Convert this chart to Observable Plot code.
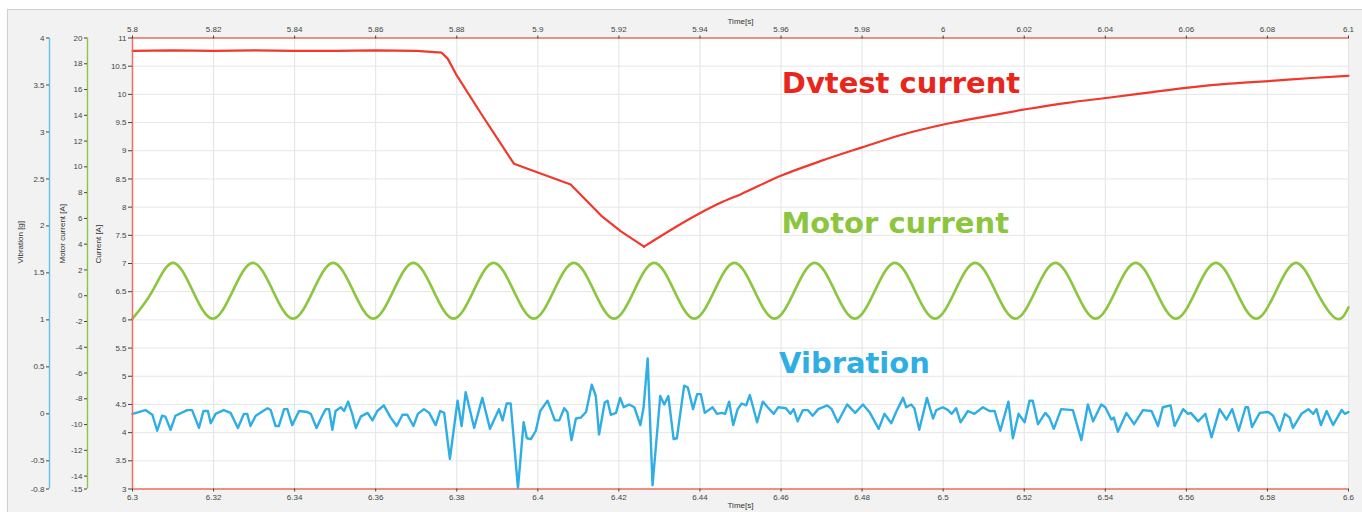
<!DOCTYPE html>
<html><head><meta charset="utf-8">
<script src="https://cdn.jsdelivr.net/npm/d3@7"></script>
<script src="https://cdn.jsdelivr.net/npm/@observablehq/plot@0.6"></script>
<style>
html,body{margin:0;padding:0;background:#fff;overflow:hidden;}
#wrap{position:relative;width:1362px;height:512px;overflow:hidden;}
#panel{position:absolute;left:7px;top:9px;width:1400px;height:560px;background:#f2f2f2;border-left:1px solid #cfcfcf;border-top:1px solid #cfcfcf;}
#chart{position:absolute;left:0;top:0;}
</style></head>
<body><div id="wrap"><div id="panel"></div><div id="chart"></div></div>
<script>
// ---- axis ticks ----
const xTicks = [6.3,6.32,6.34,6.36,6.38,6.4,6.42,6.44,6.46,6.48,6.5,6.52,6.54,6.56,6.58,6.6];
const topTicks = [5.8,5.82,5.84,5.86,5.88,5.9,5.92,5.94,5.96,5.98,6,6.02,6.04,6.06,6.08,6.1];
const currentTicks = [3,3.5,4,4.5,5,5.5,6,6.5,7,7.5,8,8.5,9,9.5,10,10.5,11];
const motorTicks = [20,18,16,14,12,10,8,6,4,2,0,-2,-4,-6,-8,-10,-12,-14,-15];
const vibTicks = [4,3.5,3,2.5,2,1.5,1,0.5,0,-0.5,-0.8];
const seriesNames = ["Dvtest current","Motor current","Vibration"];
const axisTitles = ["Current [A]","Motor current [A]","Vibration [g]"];
const timeTitle = "Time[s]";

// ---- Dvtest current (top time axis, A) ----
const redTime = [5.800,5.810,5.820,5.830,5.840,5.850,5.860,5.870,5.8763,5.8778,5.8798,5.8859,5.8941,5.9081,5.9156,5.9205,5.9262,5.9402,5.9452,5.9501,5.9601,5.9699,5.9800,5.9896,6.0004,6.0106,6.0207,6.0306,6.0407,6.0506,6.0605,6.0706,6.0810,6.0909,6.1000];
const redVal = [10.77,10.78,10.77,10.78,10.77,10.77,10.78,10.77,10.74,10.63,10.36,9.67,8.77,8.40,7.85,7.57,7.30,7.90,8.08,8.23,8.56,8.82,9.06,9.28,9.47,9.61,9.74,9.85,9.94,10.03,10.12,10.19,10.24,10.29,10.33];

// ---- Motor current (bottom time axis, A on motor axis) ----
const greenTime = [6.3,6.30495,6.3099,6.31485,6.3198,6.32475,6.3297,6.33465,6.3396,6.34455,6.3495,6.35445,6.3594,6.36435,6.3693,6.37425,6.3792,6.38415,6.3891,6.39405,6.399,6.40395,6.4089,6.41385,6.4188,6.42375,6.4287,6.43365,6.4386,6.44355,6.4485,6.45345,6.4584,6.46335,6.4683,6.47325,6.4782,6.48315,6.4881,6.49305,6.498,6.50295,6.5079,6.51285,6.5178,6.52275,6.5277,6.53265,6.5376,6.54255,6.5475,6.55245,6.5574,6.56235,6.5673,6.57225,6.5772,6.58215,6.5871,6.59205,6.597,6.6];
const greenVal = [-1.78,0.38,2.55,0.38,-1.78,0.38,2.55,0.38,-1.78,0.38,2.55,0.38,-1.78,0.38,2.55,0.38,-1.78,0.38,2.55,0.38,-1.78,0.38,2.55,0.38,-1.78,0.38,2.55,0.38,-1.78,0.38,2.55,0.38,-1.78,0.38,2.55,0.38,-1.78,0.38,2.55,0.38,-1.78,0.38,2.55,0.38,-1.78,0.38,2.55,0.38,-1.78,0.38,2.55,0.38,-1.78,0.38,2.55,0.38,-1.78,0.38,2.55,0.38,-1.78,-0.9];

// ---- Vibration (bottom time axis, g) ----
const vibTime = [
6.3000,6.3032,6.3049,6.3061,6.3073,6.3081,6.3094,6.3106,6.3135,6.3147,
6.3164,6.3175,6.3186,6.3193,6.3205,6.3225,6.3242,6.3260,6.3275,6.3283,
6.3291,6.3304,6.3333,6.3341,6.3353,6.3361,6.3374,6.3382,6.3394,6.3411,
6.3431,6.3440,6.3454,6.3468,6.3477,6.3485,6.3493,6.3501,6.3514,6.3522,
6.3532,6.3542,6.3551,6.3563,6.3580,6.3592,6.3604,6.3620,6.3637,6.3652,
6.3666,6.3678,6.3693,6.3704,6.3719,6.3732,6.3748,6.3759,6.3769,6.3783,
6.3802,6.3812,6.3822,6.3843,6.3863,6.3882,6.3904,6.3913,6.3923,6.3933,
6.3951,6.3965,6.3973,6.3983,6.3995,6.4006,6.4024,6.4042,6.4053,6.4065,
6.4073,6.4083,6.4094,6.4106,6.4119,6.4133,6.4143,6.4151,6.4165,6.4172,
6.4180,6.4193,6.4203,6.4212,6.4225,6.4238,6.4253,6.4261,6.4271,6.4283,
6.4302,6.4312,6.4322,6.4335,6.4343,6.4361,6.4370,6.4383,6.4393,6.4402,
6.4412,6.4431,6.4442,6.4454,6.4462,6.4472,6.4482,6.4493,6.4503,6.4514,
6.4523,6.4541,6.4555,6.4567,6.4582,6.4593,6.4612,6.4623,6.4631,6.4641,
6.4654,6.4666,6.4678,6.4692,6.4714,6.4725,6.4740,6.4763,6.4783,6.4802,
6.4818,6.4841,6.4855,6.4872,6.4884,6.4901,6.4909,6.4921,6.4929,6.4941,
6.4960,6.4975,6.4983,6.4999,6.5012,6.5021,6.5032,6.5043,6.5061,6.5077,
6.5098,6.5114,6.5127,6.5141,6.5161,6.5172,6.5186,6.5201,6.5213,6.5221,
6.5234,6.5252,6.5262,6.5273,6.5291,6.5320,6.5341,6.5357,6.5370,6.5390,
6.5400,6.5415,6.5421,6.5431,6.5452,6.5471,6.5493,6.5514,6.5530,6.5542,
6.5561,6.5571,6.5592,6.5604,6.5611,6.5629,6.5647,6.5662,6.5682,6.5699,
6.5713,6.5729,6.5746,6.5752,6.5762,6.5781,6.5802,6.5814,6.5830,6.5843,
6.5855,6.5863,6.5884,6.5901,6.5913,6.5921,6.5932,6.5946,6.5962,6.5970,
6.5983,6.5991,6.6000];
const vibVal = [
0.00,0.04,-0.01,-0.18,-0.02,-0.03,-0.17,-0.02,0.04,0.04,
-0.15,0.03,0.03,-0.10,0.00,0.04,0.01,-0.15,0.00,0.00,
-0.13,-0.02,0.06,0.04,-0.13,-0.13,0.05,0.05,-0.12,0.03,
0.02,0.00,-0.15,-0.02,0.05,0.05,-0.17,0.03,0.07,0.03,
0.13,0.00,-0.15,-0.03,0.01,-0.07,0.03,0.09,-0.04,-0.13,
-0.01,-0.01,-0.13,0.00,0.05,0.01,-0.12,0.03,0.01,-0.48,
0.14,-0.13,0.23,-0.15,0.17,-0.16,0.05,-0.07,0.11,0.11,
-0.79,-0.09,-0.26,-0.27,-0.18,0.03,0.14,-0.07,-0.07,0.06,
0.02,-0.28,-0.05,-0.04,0.02,0.31,0.19,-0.22,0.12,0.14,
-0.01,0.01,0.17,0.07,0.10,0.07,-0.12,0.07,0.59,-0.76,
0.19,0.10,0.19,-0.27,-0.26,0.30,0.28,0.05,0.21,0.21,
0.01,0.07,0.00,0.01,0.00,0.13,-0.12,0.05,0.11,0.09,
0.20,-0.09,0.13,0.07,0.00,0.07,0.06,0.00,0.05,-0.08,
0.04,0.04,-0.02,0.05,0.09,0.05,-0.09,0.10,0.01,0.10,
0.02,-0.16,0.00,-0.10,0.02,0.17,0.07,0.10,0.06,-0.17,
0.17,-0.05,0.04,0.07,0.04,0.00,0.06,-0.09,0.03,0.00,
0.07,0.03,0.03,-0.18,0.13,-0.26,0.00,-0.09,0.14,0.14,
-0.11,0.01,-0.04,-0.16,0.05,0.04,-0.28,0.10,-0.08,0.10,
0.07,-0.06,-0.04,-0.19,0.01,-0.11,0.04,0.03,-0.13,0.07,
0.09,-0.13,0.05,0.00,0.01,-0.08,0.00,-0.25,0.05,-0.06,
0.05,-0.18,0.07,0.07,-0.14,0.01,0.02,-0.02,-0.18,0.00,
-0.04,-0.15,0.00,0.05,0.00,0.05,-0.12,0.03,-0.12,-0.06,
0.04,0.00,0.02];

// ---- styling ----
const RED = "#f0382b", RED_TXT = "#e8261c", GREEN = "#8cc63f", BLUE = "#2eaee4";
const FRAME_RED = "#ee6f63";
const bigFont = "DejaVu Sans";

// map secondary axes into the primary (Current) y scale
const cMin = currentTicks[0], cMax = currentTicks[currentTicks.length - 1];
const motorToC = d3.scaleLinear().domain([d3.min(motorTicks), d3.max(motorTicks)]).range([cMin, cMax]);
const vibToC = d3.scaleLinear().domain([d3.min(vibTicks), d3.max(vibTicks)]).range([cMin, cMax]);
const topOffset = xTicks[0] - topTicks[0];

const redData = redTime.map((t, i) => ({t: t + topOffset, v: redVal[i]}));
const minIdx = d3.minIndex(redVal);
const redDrop = redData.slice(0, minIdx + 1);
const redRise = redData.slice(minIdx);
const greenData = greenTime.map((t, i) => ({t, v: motorToC(greenVal[i])}));
const vibData = vibTime.map((t, i) => ({t, v: vibToC(vibVal[i])}));

const topLabel = new Map(xTicks.map((d, i) => [d, String(topTicks[i])]));
const motorPos = motorTicks.map(m => motorToC(m));
const motorLabel = new Map(motorTicks.map((m, i) => [motorPos[i], String(m)]));
const vibPos = vibTicks.map(v => vibToC(v));
const vibLabel = new Map(vibTicks.map((v, i) => [vibPos[i], String(v)]));

const chart = Plot.plot({
  width: 1362,
  height: 512,
  marginTop: 37.5,
  marginBottom: 23.5,
  marginLeft: 132,
  marginRight: 14,
  style: {background: "transparent", fontFamily: "Liberation Sans, Arial, sans-serif", fontSize: "8px", color: "#444"},
  x: {domain: [xTicks[0], xTicks[xTicks.length - 1]]},
  y: {domain: [cMin, cMax]},
  marks: [
    Plot.frame({fill: "#fff", stroke: null}),
    Plot.gridX(xTicks, {stroke: "#dfe4e8", strokeOpacity: 1}),
    Plot.gridY(currentTicks, {stroke: "#e6e6e6", strokeOpacity: 1}),
    // series
    Plot.line(greenData, {x: "t", y: "v", stroke: GREEN, strokeWidth: 2.6, curve: "natural"}),
    Plot.line(vibData, {x: "t", y: "v", stroke: BLUE, strokeWidth: 2.4, strokeLinejoin: "round"}),
    Plot.line(redDrop, {x: "t", y: "v", stroke: RED, strokeWidth: 2.2, strokeLinejoin: "round"}),
    Plot.line(redRise, {x: "t", y: "v", stroke: RED, strokeWidth: 2.2, curve: "monotone-x"}),
    // frame edges
    Plot.ruleY([cMax], {stroke: FRAME_RED, strokeWidth: 1.5}),
    Plot.ruleY([cMin], {stroke: FRAME_RED, strokeWidth: 1.5}),
    Plot.ruleX([xTicks[0]], {stroke: FRAME_RED, strokeWidth: 1.5}),
    // secondary axis lines
    Plot.ruleX([xTicks[0]], {dx: -45, stroke: "#8cc63f", strokeWidth: 1.4}),
    Plot.ruleX([xTicks[0]], {dx: -83, stroke: "#5cc3ee", strokeWidth: 1.4}),
    // axes
    Plot.axisX(xTicks, {anchor: "bottom", tickSize: 3, tickPadding: 2, label: null, tickFormat: d => String(d)}),
    Plot.axisX(xTicks, {anchor: "top", tickSize: 3, tickPadding: 3, label: null, tickFormat: d => topLabel.get(d)}),
    Plot.axisY(currentTicks, {anchor: "left", tickSize: 4, tickPadding: 2, label: null, tickFormat: d => String(d)}),
    Plot.axisY(motorPos, {anchor: "left", dx: -45, tickSize: 3, tickPadding: 2, label: null, tickFormat: d => motorLabel.get(d)}),
    Plot.axisY(vibPos, {anchor: "left", dx: -83, tickSize: 3, tickPadding: 2, label: null, tickFormat: d => vibLabel.get(d)}),
    // axis titles
    Plot.text([axisTitles[0]], {text: d => d, frameAnchor: "left", dx: -34, rotate: -90, fontSize: 8, fill: "#333"}),
    Plot.text([axisTitles[1]], {text: d => d, frameAnchor: "left", dx: -70, rotate: -90, fontSize: 8, fill: "#333"}),
    Plot.text([axisTitles[2]], {text: d => d, frameAnchor: "left", dx: -112, rotate: -90, fontSize: 8, fill: "#333"}),
    Plot.text([timeTitle], {text: d => d, frameAnchor: "top", dy: -20, fontSize: 8, fill: "#333"}),
    Plot.text([timeTitle], {text: d => d, frameAnchor: "bottom", dy: 19, fontSize: 8, fill: "#333"}),
    // series labels
    Plot.text([seriesNames[0]], {text: d => d, x: () => 6.4602, y: () => 10.19, textAnchor: "start", fontFamily: bigFont, fontWeight: "bold", fontSize: 29, fill: RED_TXT}),
    Plot.text([seriesNames[1]], {text: d => d, x: () => 6.4601, y: () => 7.71, textAnchor: "start", fontFamily: bigFont, fontWeight: "bold", fontSize: 29, fill: GREEN}),
    Plot.text([seriesNames[2]], {text: d => d, x: () => 6.4595, y: () => 5.23, textAnchor: "start", fontFamily: bigFont, fontWeight: "bold", fontSize: 29, fill: BLUE})
  ]
});
document.getElementById("chart").appendChild(chart);
</script></body></html>
